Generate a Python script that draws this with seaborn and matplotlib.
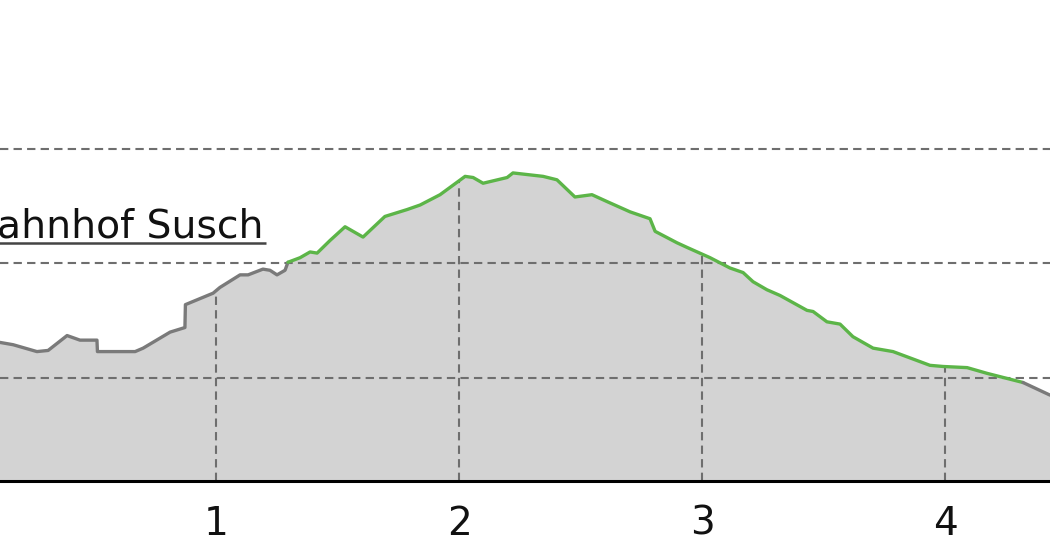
import numpy as np
import pandas as pd
import matplotlib
matplotlib.use("Agg")
import matplotlib.pyplot as plt
import seaborn as sns

# distance along route (km) and elevation (m)
km = [0.111, 0.165, 0.263, 0.309, 0.387, 0.440, 0.510, 0.512, 0.667, 0.700,
      0.811, 0.872, 0.874, 0.988, 1.016, 1.099, 1.132, 1.193, 1.222, 1.251,
      1.284, 1.296, 1.346, 1.387, 1.416, 1.469, 1.531, 1.605, 1.695, 1.786,
      1.840, 1.922, 2.025, 2.058, 2.099, 2.198, 2.222, 2.346, 2.403, 2.477,
      2.547, 2.609, 2.704, 2.786, 2.807, 2.897, 2.938, 3.033, 3.115, 3.169,
      3.210, 3.267, 3.321, 3.432, 3.457, 3.514, 3.568, 3.621, 3.704, 3.786,
      3.938, 3.992, 4.091, 4.173, 4.321, 4.432]
elev = [1531, 1529, 1523, 1524, 1537, 1533, 1533, 1523, 1523, 1526,
        1540, 1544, 1564, 1574, 1579, 1590, 1590, 1595, 1594, 1590,
        1594, 1601, 1605, 1610, 1609, 1620, 1632, 1623, 1641, 1647,
        1651, 1660, 1676, 1675, 1670, 1675, 1679, 1676, 1673, 1658,
        1660, 1654, 1645, 1639, 1628, 1618, 1614, 1605, 1596, 1592,
        1584, 1577, 1572, 1559, 1558, 1549, 1547, 1536, 1526, 1523,
        1511, 1510, 1509, 1504, 1496, 1485]
# route section boundaries (km): grey approach, green trail, grey end
section_starts = [0.111, 1.296, 4.321]
section_names = ["approach", "trail", "exit"]
section_colors = {"approach": "#7a7a7a", "trail": "#5cb548", "exit": "#7a7a7a"}

x_ticks = [1, 2, 3, 4]
x_ticklabels = ["1", "2", "3", "4"]
y_grid = [1500, 1600, 1700]
label_text = "Bahnhof Susch"
label_km = -0.012
label_elev = 1623

# build long table with shared boundary points per section
rows = []
bounds = section_starts + [max(km) + 1]
for i, name in enumerate(section_names):
    lo, hi = bounds[i], bounds[i + 1]
    for k, e in zip(km, elev):
        if lo - 1e-9 <= k <= hi + 1e-9:
            rows.append({"km": k, "elev": e, "section": name})
df = pd.DataFrame(rows)

sns.set_theme(style="white")
plt.rcParams['font.family'] = ['DejaVu Sans']

fig = plt.figure(figsize=(10.5, 5.6), dpi=100)
ax = fig.add_axes([0, (560 - 481) / 560, 1, 481 / 560])

ybot, ytop = 1410, 1830
ax.fill_between(km, elev, ybot, color="#d3d3d3", lw=0, zorder=1)

for g in y_grid:
    ax.axhline(g, color="#6e6e6e", lw=1.5, ls=(0, (4, 2.5)), zorder=2)
ax.vlines(x_ticks, ybot, np.interp(x_ticks, km, elev), color="#6e6e6e",
          lw=1.5, ls=(0, (4, 2.5)), zorder=2)

sns.lineplot(data=df, x="km", y="elev", hue="section", palette=section_colors,
             hue_order=section_names, sort=False, estimator=None, lw=2.4,
             legend=False, ax=ax, zorder=3)

ax.set_xlim(min(km), max(km))
ax.set_ylim(ybot, ytop)
ax.set_xticks(x_ticks)
ax.set_xticklabels(x_ticklabels)
ax.set_yticks([])
ax.set_xlabel("")
ax.set_ylabel("")
ax.tick_params(axis="x", length=0, pad=17, labelsize=28, labelcolor="#111111")
for s in ["top", "left", "right"]:
    ax.spines[s].set_visible(False)
ax.spines["bottom"].set_color("black")
ax.spines["bottom"].set_linewidth(2.2)
ax.spines["bottom"].set_zorder(4)

t = ax.text(label_km, label_elev, label_text, fontsize=28.4, color="#111111",
            va="baseline", ha="left", clip_on=False, zorder=5)
fig.canvas.draw()
bb = t.get_window_extent(renderer=fig.canvas.get_renderer())
inv = ax.transData.inverted()
(x0, _), (x1, _) = inv.transform([(bb.x0, bb.y0), (bb.x1, bb.y0)])
y_ul = label_elev - 5
ax.plot([x0, x1 + 0.01], [y_ul, y_ul], color="#444444", lw=1.8, clip_on=False,
        solid_capstyle="butt", zorder=5)

fig.savefig("out.png", dpi=100)
